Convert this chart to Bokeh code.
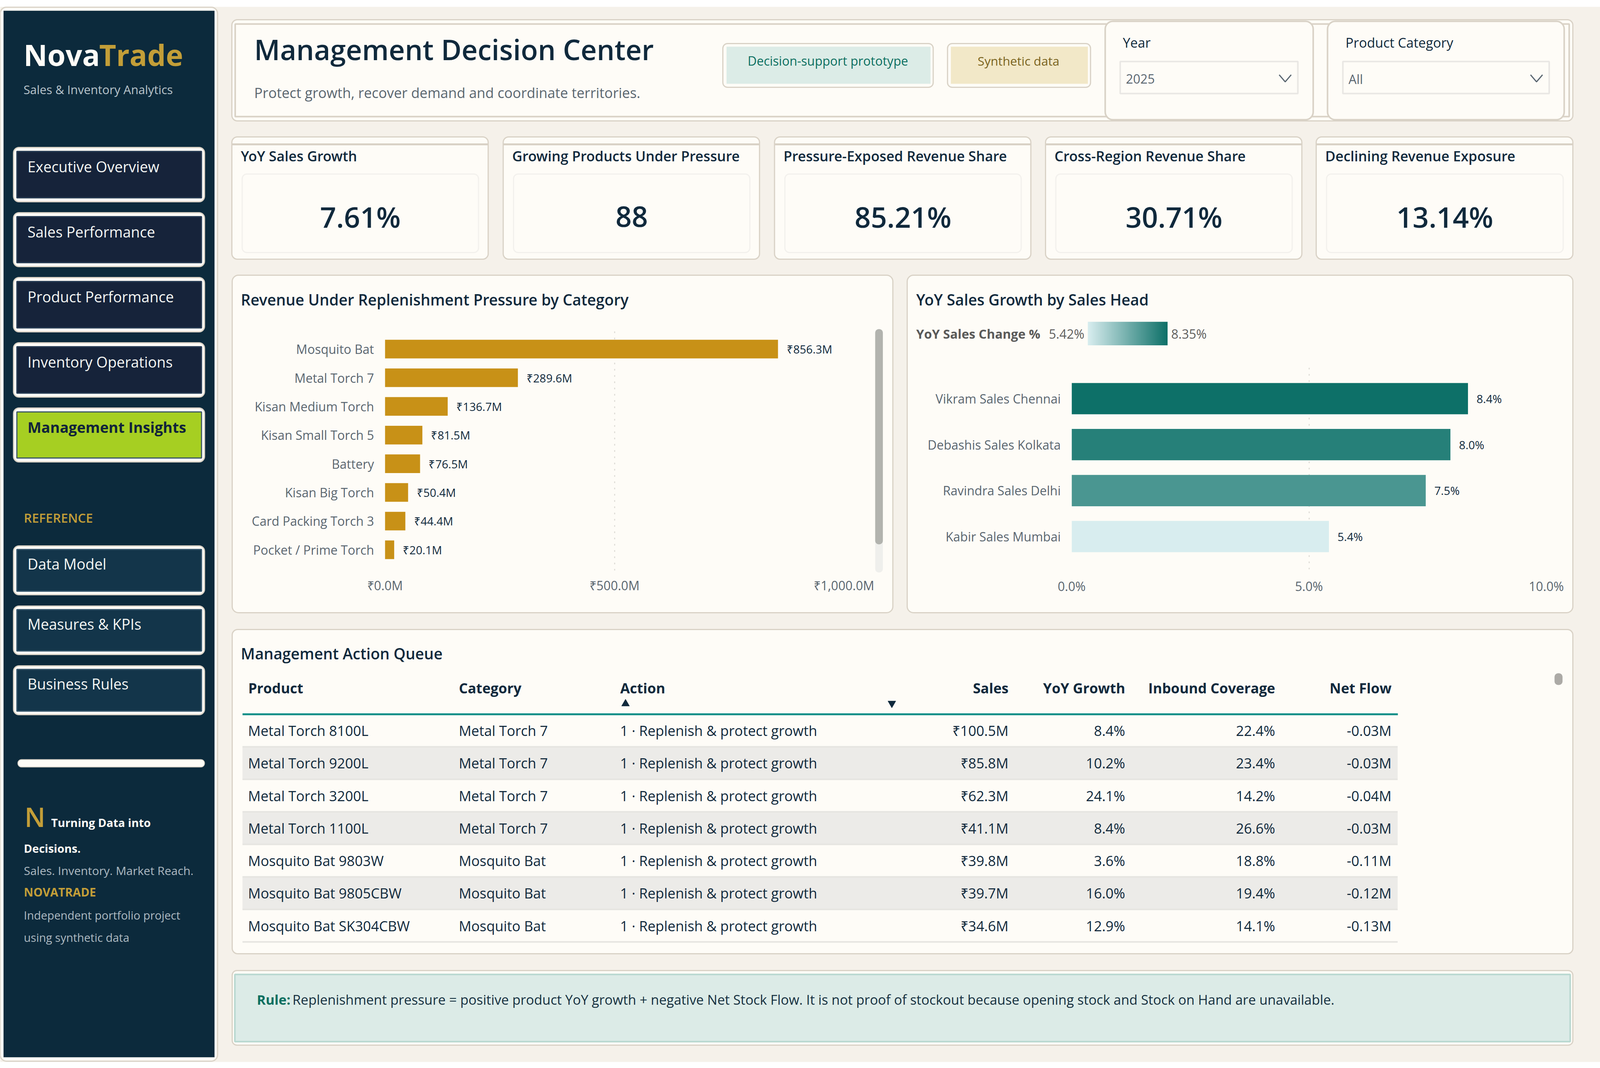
from bokeh.embed import file_html
from bokeh.resources import INLINE
from bokeh.plotting import figure
from bokeh.core.properties import value
from bokeh.models import ColumnDataSource, FactorRange, FixedTicker, LinearColorMapper, Range1d
import numpy as np

FONT = "Open Sans"
SEMI = '"Open Sans SemiBold", "Open Sans"'
NAVY = "#0C2A3C"; INK = "#10293C"; GREY = "#5A6670"; GOLD = "#C39E38"
PAGE = "#F5F1EA"; CARD = "#FEFCF7"; EDGE = "#D9D2C6"

nav_main = ["Executive Overview", "Sales Performance", "Product Performance", "Inventory Operations", "Management Insights"]
nav_ref = ["Data Model", "Measures & KPIs", "Business Rules"]
kpi_titles = ["YoY Sales Growth", "Growing Products Under Pressure", "Pressure-Exposed Revenue Share",
              "Cross-Region Revenue Share", "Declining Revenue Exposure"]
kpi_values = ["7.61%", "88", "85.21%", "30.71%", "13.14%"]

pressure_categories = ["Mosquito Bat", "Metal Torch 7", "Kisan Medium Torch", "Kisan Small Torch 5", "Battery",
                       "Kisan Big Torch", "Card Packing Torch 3", "Pocket / Prime Torch"]
pressure_values = [856.3, 289.6, 136.7, 81.5, 76.5, 50.4, 44.4, 20.1]
pressure_labels = ["₹856.3M", "₹289.6M", "₹136.7M", "₹81.5M", "₹76.5M", "₹50.4M", "₹44.4M", "₹20.1M"]
pressure_ticks = [0, 500, 1000]
pressure_ticklabels = ["₹0.0M", "₹500.0M", "₹1,000.0M"]

head_names = ["Vikram Sales Chennai", "Debashis Sales Kolkata", "Ravindra Sales Delhi", "Kabir Sales Mumbai"]
head_values = [8.35, 7.98, 7.46, 5.42]
head_labels = ["8.4%", "8.0%", "7.5%", "5.4%"]
head_ticks = [0, 5, 10]
head_ticklabels = ["0.0%", "5.0%", "10.0%"]

tbl_product = ["Metal Torch 8100L", "Metal Torch 9200L", "Metal Torch 3200L", "Metal Torch 1100L",
               "Mosquito Bat 9803W", "Mosquito Bat 9805CBW", "Mosquito Bat SK304CBW"]
tbl_category = ["Metal Torch 7"] * 4 + ["Mosquito Bat"] * 3
tbl_action = ["1 · Replenish & protect growth"] * 7
tbl_sales = ["₹100.5M", "₹85.8M", "₹62.3M", "₹41.1M", "₹39.8M", "₹39.7M", "₹34.6M"]
tbl_yoy = ["8.4%", "10.2%", "24.1%", "8.4%", "3.6%", "16.0%", "12.9%"]
tbl_inbound = ["22.4%", "23.4%", "14.2%", "26.6%", "18.8%", "19.4%", "14.1%"]
tbl_net = ["-0.03M", "-0.03M", "-0.04M", "-0.03M", "-0.11M", "-0.12M", "-0.13M"]

# the photographed page is 4096 px wide: reference x coordinates are mapped onto it
K = 4096 / 4800
W, H = 4096, 2734


def sx(x):
    return int(round(x * K))


def mix(a, b, t):
    ca = [int(a[i:i + 2], 16) for i in (1, 3, 5)]
    cb = [int(b[i:i + 2], 16) for i in (1, 3, 5)]
    return "#%02x%02x%02x" % tuple(round(x + (y - x) * t) for x, y in zip(ca, cb))


RAMP = [mix("#D8EDEF", "#0D7068", i / 255) for i in range(256)]

base = figure(width=W, height=H, x_range=Range1d(0, 4800), y_range=Range1d(H, 0), toolbar_location=None,
              output_backend="svg", min_border=0, x_axis_type=None, y_axis_type=None, outline_line_color=None,
              background_fill_color="#FFFFFF", border_fill_color="#FFFFFF")
base.grid.visible = False


def box(x0, y0, x1, y1, fill=CARD, line=EDGE, lw=3, r=0):
    base.quad(left=[x0], right=[x1], top=[y0], bottom=[y1], fill_color=fill, line_color=line, line_width=lw,
              border_radius=r)


def label(x, y, s, size, color=INK, align="left", bold=False, semi=False):
    base.text(x=[x], y=[y], text=[s], text_font=value(SEMI if semi else FONT), text_font_size=f"{size * K:.1f}px", text_color=color,
              text_align=align, text_baseline="middle", text_font_style="bold" if bold else "normal")


# page and sidebar
box(0, 17, 4800, 2718, PAGE, None, 0)
box(0, 18, 652, 2716, CARD, EDGE, 3, 16)
box(10, 27, 643, 2706, NAVY, None, 0)
label(70, 139, "Nova", 88, "#FFFCF7", bold=True)
label(297, 139, "Trade", 88, GOLD, bold=True)
label(70, 228, "Sales & Inventory Analytics", 36, "#B8C4CB")

for name, y0, y1 in zip(nav_main, [377, 544, 710, 877, 1044], [516, 682, 849, 1016, 1182]):
    active = name == "Management Insights"
    box(40, y0, 613, y1, CARD, EDGE, 3, 14)
    box(50, y0 + 10, 604, y1 - 10, "#A6CF22" if active else "#16233A", "#3E5A66" if active else "#2B4058", 3)
    label(82, y0 + 49, name, 44, "#10233A" if active else "#F5F7F4", bold=active)

label(71, 1324, "REFERENCE", 38, GOLD, semi=True)
for name, y0, y1 in zip(nav_ref, [1397, 1551, 1704], [1522, 1675, 1829]):
    box(40, y0, 613, y1, CARD, EDGE, 3, 14)
    box(50, y0 + 9, 604, y1 - 9, "#13354A", "#3A5A70", 3)
    label(82, y0 + 46, name, 44, "#F5F7F4")

box(53, 1944, 613, 1963, CARD, EDGE, 2, 9)
label(73, 2090, "N", 80, GOLD, semi=True)
label(153, 2105, "Turning Data into", 34, "#FFFCF7", bold=True)
label(71, 2171, "Decisions.", 34, "#FFFCF7", bold=True)
label(71, 2228, "Sales. Inventory. Market Reach.", 35, "#AEBAC2")
label(71, 2283, "NOVATRADE", 35, GOLD, bold=True)
label(71, 2342, "Independent portfolio project", 34, "#AEBAC2")
label(71, 2399, "using synthetic data", 34, "#AEBAC2")

# header
box(695, 50, 4718, 309, CARD, EDGE, 3, 14)
box(705, 61, 4707, 298, CARD, EDGE, 4)
label(762, 125, "Management Decision Center", 84, INK, semi=True)
label(762, 236, "Protect growth, recover demand and coordinate territories.", 42, GREY)
box(2168, 111, 2799, 223, CARD, EDGE, 3, 12)
box(2179, 119, 2791, 214, "#DCECE7", None, 0)
label(2483, 155, "Decision-support prototype", 37.5, "#0B6F60", "center")
box(2842, 111, 3271, 223, CARD, EDGE, 3, 12)
box(2852, 119, 3263, 214, "#F2E8C8", None, 0)
label(3055, 155, "Synthetic data", 37, "#7A6420", "center")

for title, val, x0, x1, dd0, dd1 in [("Year", "2025", 3315, 3939, 3360, 3893), ("Product Category", "All", 3982, 4692, 4028, 4647)]:
    box(x0, 54, x1, 306, CARD, EDGE, 4, 20)
    label(dd0 + 8, 108, title, 40)
    box(dd0, 157, dd1, 239, CARD, "#E9E7E4", 4)
    label(dd0 + 17, 201, val, 38, GREY)
    base.line(x=[dd1 - 56, dd1 - 38, dd1 - 20], y=[191, 209, 191], line_color=GREY, line_width=3)

# KPI cards
for t, v, x0, x1 in zip(kpi_titles, kpi_values, [695, 1509, 2323, 3136, 3948], [1464, 2278, 3092, 3905, 4718]):
    box(x0, 350, x1, 663, CARD, EDGE, 3, 14)
    base.segment(x0=[x0], y0=[369], x1=[x1], y1=[369], line_color=EDGE, line_width=5)
    box(x0 + 31, 445, x1 - 29, 646, CARD, "#F3F1ED", 3, 12)
    label(x0 + 27, 398, t, 42, semi=True)
    label((x0 + x1) / 2 + 1, 554, v, 85, INK, "center", semi=True)

# chart cards
box(696, 704, 2678, 1568, CARD, EDGE, 3, 16)
label(722, 766, "Revenue Under Replenishment Pressure by Category", 45.8, semi=True)
box(2721, 704, 4718, 1568, CARD, EDGE, 3, 16)
label(2748, 766, "YoY Sales Growth by Sales Head", 45.8, semi=True)
label(2748, 853, "YoY Sales Change %", 38, "#5A5A5A", bold=True)
label(3146, 853, "5.42%", 38, "#5E5E5E")
label(3513, 853, "8.35%", 38, "#5E5E5E")
box(2625, 842, 2648, 1465, "#EFEFEC", None, 0, 9)
box(2625, 842, 2648, 1393, "#B2B3AE", None, 0, 9)

# table and rule cards
box(696, 1611, 4718, 2441, CARD, EDGE, 3, 14)
label(722, 1672, "Management Action Queue", 45.8, semi=True)
for s, x, al in [("Product", 744, "left"), ("Category", 1376, "left"), ("Action", 1860, "left"), ("Sales", 3025, "right"),
                 ("YoY Growth", 3375, "right"), ("Inbound Coverage", 3825, "right"), ("Net Flow", 4174, "right")]:
    label(x, 1760, s, 42, INK, al, bold=True)
base.segment(x0=[727], y0=[1828], x1=[4193], y1=[1828], line_color="#14918A", line_width=5)
base.scatter(x=[1876], y=[1801], marker="triangle", size=20, color=INK)
base.scatter(x=[2675], y=[1800], marker="inverted_triangle", size=20, color=INK)
box(4663, 1723, 4687, 1753, "#ACAAA6", None, 0, 9)

box(696, 2484, 4718, 2675, CARD, EDGE, 3, 12)
box(704, 2494, 4710, 2666, "#DCEBE7", "#B8D8D0", 4)
label(770, 2558, "Rule:", 40.3, "#0B6F60", bold=True)
label(877, 2558, "Replenishment pressure = positive product YoY growth + negative Net Stock Flow. It is not proof of stockout because opening stock and Stock on Hand are unavailable.", 40.3, "#15303F")


def place(fig, x, y):
    fig.styles = {"position": "absolute", "left": f"{sx(x)}px", "top": f"{y}px"}


def hchart(cats, vals, labs, ticks, ticklabs, xmax, card_l, card_r, fl, fr, ft, fb, card_b, pad, bar_h, standoff, xstand, colors):
    f = figure(width=sx(card_r) - sx(card_l), height=card_b - 700, toolbar_location=None, output_backend="svg",
               x_range=Range1d(0, xmax),
               y_range=FactorRange(factors=list(reversed(cats)), range_padding=pad, range_padding_units="absolute"),
               min_border_left=sx(fl) - sx(card_l), min_border_right=sx(card_r) - sx(fr),
               min_border_top=ft - 700, min_border_bottom=card_b - fb,
               background_fill_alpha=0, border_fill_alpha=0, outline_line_color=None)
    src = ColumnDataSource(dict(cat=cats, val=vals, lab=labs, color=colors))
    f.hbar(y="cat", right="val", left=0, height=bar_h, fill_color="color", line_color=None, source=src)
    f.text(x="val", y="cat", text="lab", x_offset=22, text_font=value(FONT), text_font_size=f"{34 * K:.1f}px", text_color=INK,
           text_baseline="middle", source=src)
    f.ygrid.visible = False
    f.xgrid.grid_line_color = "#DAD8D2"
    f.xgrid.grid_line_width = 2.5
    f.xgrid.grid_line_dash = [4, 12]
    f.xgrid.ticker = FixedTicker(ticks=ticks)
    f.xaxis.ticker = FixedTicker(ticks=ticks)
    f.xaxis.major_label_overrides = dict(zip(ticks, ticklabs))
    for ax in (f.xaxis, f.yaxis):
        ax.axis_line_color = None
        ax.major_tick_line_color = None
        ax.minor_tick_line_color = None
        ax.major_label_text_font = FONT
        ax.major_label_text_color = GREY
        ax.major_label_text_font_size = f"{37.5 * K:.1f}px"
    f.yaxis.major_label_standoff = standoff
    f.xaxis.major_label_standoff = xstand
    place(f, card_l, 700)
    return f


chart1 = hchart(pressure_categories, pressure_values, pressure_labels, pressure_ticks, pressure_ticklabels, 1000,
                696, 2678, 1154, 2531, 840, 1460, 1560, 0.2235, 0.65, 22, 10, ["#C89117"] * 8)
low, high = head_values[-1], head_values[0]
head_colors = [RAMP[round((v - low) / (high - low) * 255)] for v in head_values]
chart2 = hchart(head_names, head_values, head_labels, head_ticks, head_ticklabels, 10,
                2721, 4718, 3214, 4638, 936, 1457, 1560, 0.213, 0.68, 22, 15, head_colors)

# gradient legend: a colour ramp between the two legend values
ramp_fig = figure(width=sx(3503) - sx(3262), height=61, toolbar_location=None, output_backend="svg", min_border=0,
                  x_range=Range1d(low, high), y_range=Range1d(0, 1),
                  x_axis_type=None, y_axis_type=None, outline_line_color=None,
                  background_fill_alpha=0, border_fill_alpha=0)
ramp_fig.grid.visible = False
ramp_fig.image(image=[np.linspace(low, high, 206).reshape(1, -1)], x=low, y=0, dw=high - low, dh=1,
               color_mapper=LinearColorMapper(palette=RAMP, low=low, high=high))
place(ramp_fig, 3262, 823)

# table body
n = len(tbl_product)
table = figure(width=sx(4193) - sx(727), height=587, toolbar_location=None, output_backend="svg", min_border=0,
               x_range=Range1d(727, 4193), y_range=Range1d(6.55, -0.5), x_axis_type=None, y_axis_type=None,
               outline_line_color=None, background_fill_alpha=0, border_fill_alpha=0)
table.grid.visible = False
rows = list(range(n))
stripe = [r for r in rows if r % 2 == 1]
table.hbar(y=stripe, left=727, right=4193, height=1, fill_color="#ECEBE8", line_color=None)
table.segment(x0=[727] * n, x1=[4193] * n, y0=[r + .5 for r in rows], y1=[r + .5 for r in rows], line_color="#E6E5E1", line_width=4)
for col, x, al in [(tbl_product, 744, "left"), (tbl_category, 1376, "left"), (tbl_action, 1860, "left"), (tbl_sales, 3025, "right"),
                   (tbl_yoy, 3375, "right"), (tbl_inbound, 3825, "right"), (tbl_net, 4174, "right")]:
    table.text(x=[x] * n, y=rows, text=col, text_font=value(FONT), text_font_size=f"{42 * K:.1f}px", text_color=INK,
               text_align=al, text_baseline="middle")
place(table, 727, 1828)

open("out.html", "w").write(file_html((base, chart1, chart2, ramp_fig, table), INLINE, "Management Decision Center"))
